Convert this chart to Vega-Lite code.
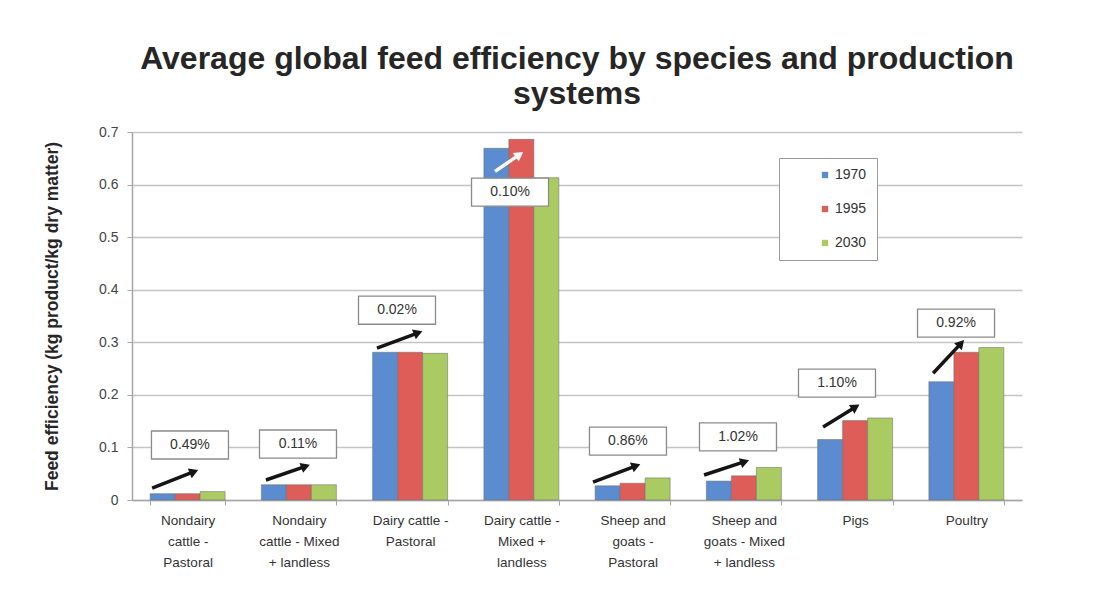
{
  "$schema": "https://vega.github.io/schema/vega-lite/v6.json",
  "autosize": "none",
  "width": 890,
  "height": 368,
  "padding": {"left": 132, "top": 132, "right": 95, "bottom": 95},
  "background": "white",
  "title": {
    "text": ["Average global feed efficiency by species and production", "systems"],
    "font": "Liberation Sans",
    "fontSize": 32,
    "fontWeight": "bold",
    "color": "#262626",
    "anchor": "middle",
    "frame": "group",
    "lineHeight": 35,
    "offset": 14
  },
  "config": {
    "font": "Liberation Sans",
    "view": {"stroke": null}
  },
  "datasets": {
    "bars": [
      {"category": "Nondairy cattle - Pastoral", "year": "1970", "value": 0.012},
      {"category": "Nondairy cattle - Pastoral", "year": "1995", "value": 0.012},
      {"category": "Nondairy cattle - Pastoral", "year": "2030", "value": 0.016},
      {"category": "Nondairy cattle - Mixed + landless", "year": "1970", "value": 0.029},
      {"category": "Nondairy cattle - Mixed + landless", "year": "1995", "value": 0.029},
      {"category": "Nondairy cattle - Mixed + landless", "year": "2030", "value": 0.029},
      {"category": "Dairy cattle - Pastoral", "year": "1970", "value": 0.281},
      {"category": "Dairy cattle - Pastoral", "year": "1995", "value": 0.281},
      {"category": "Dairy cattle - Pastoral", "year": "2030", "value": 0.279},
      {"category": "Dairy cattle - Mixed + landless", "year": "1970", "value": 0.669},
      {"category": "Dairy cattle - Mixed + landless", "year": "1995", "value": 0.686},
      {"category": "Dairy cattle - Mixed + landless", "year": "2030", "value": 0.613},
      {"category": "Sheep and goats - Pastoral", "year": "1970", "value": 0.027},
      {"category": "Sheep and goats - Pastoral", "year": "1995", "value": 0.032},
      {"category": "Sheep and goats - Pastoral", "year": "2030", "value": 0.042},
      {"category": "Sheep and goats - Mixed + landless", "year": "1970", "value": 0.036},
      {"category": "Sheep and goats - Mixed + landless", "year": "1995", "value": 0.046},
      {"category": "Sheep and goats - Mixed + landless", "year": "2030", "value": 0.062},
      {"category": "Pigs", "year": "1970", "value": 0.115},
      {"category": "Pigs", "year": "1995", "value": 0.151},
      {"category": "Pigs", "year": "2030", "value": 0.156},
      {"category": "Poultry", "year": "1970", "value": 0.225},
      {"category": "Poultry", "year": "1995", "value": 0.281},
      {"category": "Poultry", "year": "2030", "value": 0.290}
    ],
    "notes": [
      {"category": "Nondairy cattle - Pastoral", "label": "0.49%", "bx": 0.521, "by": 0.1046, "ax0": 0.181, "ay0": 0.0228, "ax1": 0.557, "ay1": 0.054, "angle": 68},
      {"category": "Nondairy cattle - Mixed + landless", "label": "0.11%", "bx": 1.492, "by": 0.1065, "ax0": 1.204, "ay0": 0.038, "ax1": 1.56, "ay1": 0.064, "angle": 70},
      {"category": "Dairy cattle - Pastoral", "label": "0.02%", "bx": 2.382, "by": 0.361, "ax0": 2.202, "ay0": 0.289, "ax1": 2.572, "ay1": 0.318, "angle": 69},
      {"category": "Dairy cattle - Mixed + landless", "label": "0.10%", "bx": 3.398, "by": 0.5856, "ax0": 3.263, "ay0": 0.625, "ax1": 3.483, "ay1": 0.657, "angle": 55},
      {"category": "Sheep and goats - Pastoral", "label": "0.86%", "bx": 4.458, "by": 0.112, "ax0": 4.144, "ay0": 0.034, "ax1": 4.531, "ay1": 0.065, "angle": 69},
      {"category": "Sheep and goats - Mixed + landless", "label": "1.02%", "bx": 5.447, "by": 0.12, "ax0": 5.142, "ay0": 0.0475, "ax1": 5.508, "ay1": 0.073, "angle": 71},
      {"category": "Pigs", "label": "1.10%", "bx": 6.337, "by": 0.2224, "ax0": 6.212, "ay0": 0.139, "ax1": 6.504, "ay1": 0.177, "angle": 58},
      {"category": "Poultry", "label": "0.92%", "bx": 7.407, "by": 0.3365, "ax0": 7.201, "ay0": 0.241, "ax1": 7.452, "ay1": 0.298, "angle": 42}
    ]
  },
  "layer": [
    {
      "data": {"name": "bars"},
      "mark": {"type": "bar", "stroke": "#6f6f6f", "strokeOpacity": 0.55, "strokeWidth": 1},
      "encoding": {
        "x": {
          "field": "category",
          "type": "nominal",
          "sort": null,
          "scale": {"paddingInner": 0.326, "paddingOuter": 0.163},
          "axis": {
            "title": null,
            "labelAngle": 0,
            "labelFontSize": 13.5,
            "labelColor": "#333333",
            "labelLineHeight": 21,
            "labelPadding": 8,
            "labelBaseline": "top",
            "labelLimit": 200,
            "tickBand": "extent",
            "tickSize": 5,
            "tickColor": "#a6a6a6",
            "domainColor": "#a6a6a6",
            "domainWidth": 1.5,
            "labelExpr": "({'Nondairy cattle - Pastoral': ['Nondairy', 'cattle -', 'Pastoral'], 'Nondairy cattle - Mixed + landless': ['Nondairy', 'cattle - Mixed', '+ landless'], 'Dairy cattle - Pastoral': ['Dairy cattle -', 'Pastoral'], 'Dairy cattle - Mixed + landless': ['Dairy cattle -', 'Mixed +', 'landless'], 'Sheep and goats - Pastoral': ['Sheep and', 'goats -', 'Pastoral'], 'Sheep and goats - Mixed + landless': ['Sheep and', 'goats - Mixed', '+ landless'], 'Pigs': 'Pigs', 'Poultry': 'Poultry'})[datum.value]"
          }
        },
        "xOffset": {"field": "year", "type": "nominal", "scale": {"paddingInner": 0, "paddingOuter": 0}},
        "y": {
          "field": "value",
          "type": "quantitative",
          "scale": {"domain": [0, 0.7], "nice": false},
          "axis": {
            "title": "Feed efficiency (kg product/kg dry matter)",
            "titleFontSize": 17.5,
            "titleFontWeight": "bold",
            "titleColor": "#262626",
            "titlePadding": 37,
            "values": [0, 0.1, 0.2, 0.3, 0.4, 0.5, 0.6, 0.7],
            "format": ".1~f",
            "labelFontSize": 14,
            "labelColor": "#444444",
            "labelPadding": 9,
            "tickSize": 5,
            "tickColor": "#a6a6a6",
            "domainColor": "#a6a6a6",
            "domainWidth": 1.5,
            "gridColor": "#c4c4c4",
            "gridWidth": 1.5
          }
        },
        "color": {
          "field": "year",
          "type": "nominal",
          "scale": {"domain": ["1970", "1995", "2030"], "range": ["#5a8ccf", "#de5d59", "#a9cb62"]},
          "legend": {
            "title": null,
            "orient": "none",
            "legendX": 647,
            "legendY": 26,
            "direction": "vertical",
            "fillColor": "white",
            "strokeColor": "#9a9a9a",
            "padding": 10,
            "rowPadding": 20,
            "symbolType": "square",
            "symbolSize": 40,
            "symbolStrokeWidth": 0,
            "symbolOffset": 29,
            "labelFontSize": 14,
            "labelColor": "#333333",
            "labelOffset": 3,
            "labelExpr": "datum.label + '        '"
          }
        }
      }
    },
    {
      "data": {"name": "notes"},
      "layer": [
        {
          "mark": {"type": "rule", "strokeWidth": 3.5},
          "encoding": {
            "x": {"field": "ax0", "type": "quantitative", "scale": {"domain": [0, 8], "nice": false, "zero": false}, "axis": null},
            "x2": {"field": "ax1"},
            "y": {"field": "ay0", "type": "quantitative"},
            "y2": {"field": "ay1"},
            "color": {"condition": {"test": "datum.category == 'Dairy cattle - Mixed + landless'", "value": "#ffffff"}, "value": "#151515"}
          }
        },
        {
          "mark": {"type": "point", "shape": "triangle-up", "filled": true, "size": 110, "opacity": 1},
          "encoding": {
            "x": {"field": "ax1", "type": "quantitative", "scale": {"domain": [0, 8], "nice": false, "zero": false}, "axis": null},
            "y": {"field": "ay1", "type": "quantitative"},
            "angle": {"field": "angle", "type": "quantitative", "scale": null},
            "color": {"condition": {"test": "datum.category == 'Dairy cattle - Mixed + landless'", "value": "#ffffff"}, "value": "#151515"}
          }
        },
        {
          "mark": {"type": "point", "shape": "M-1,-0.364L1,-0.364L1,0.364L-1,0.364Z", "size": 5929, "filled": true, "fill": "white", "stroke": "#8a8a8a", "strokeWidth": 1.3, "opacity": 1},
          "encoding": {
            "x": {"field": "bx", "type": "quantitative", "scale": {"domain": [0, 8], "nice": false, "zero": false}, "axis": null},
            "y": {"field": "by", "type": "quantitative"}
          }
        },
        {
          "mark": {"type": "text", "fontSize": 14, "color": "#333333", "font": "Liberation Sans"},
          "encoding": {
            "x": {"field": "bx", "type": "quantitative", "scale": {"domain": [0, 8], "nice": false, "zero": false}, "axis": null},
            "y": {"field": "by", "type": "quantitative"},
            "text": {"field": "label"}
          }
        }
      ]
    }
  ],
  "resolve": {"scale": {"x": "independent"}, "axis": {"x": "independent"}}
}
